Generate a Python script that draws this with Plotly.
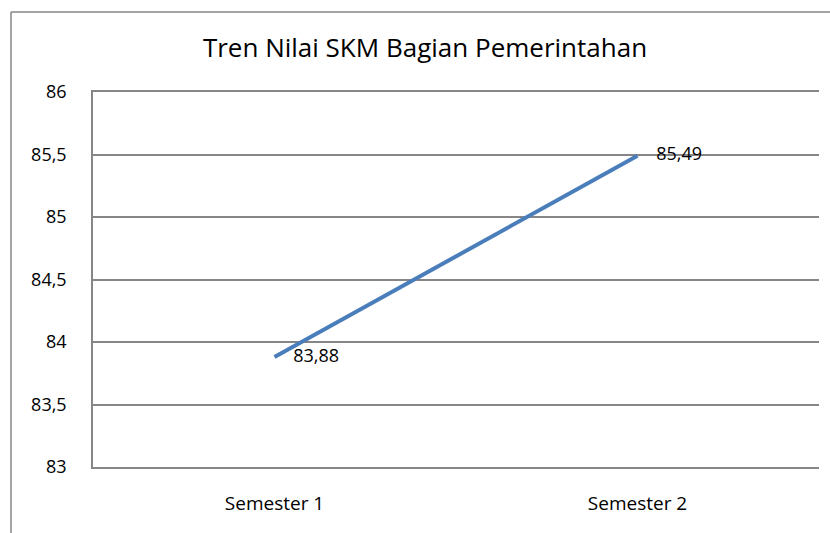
import plotly.graph_objects as go

categories = ["Semester 1", "Semester 2"]
values = [83.88, 85.49]
value_labels = ["83,88", "85,49"]
y_tickvals = [83, 83.5, 84, 84.5, 85, 85.5, 86]
y_ticktext = ["83", "83,5", "84", "84,5", "85", "85,5", "86"]

W, H = 830, 533
L, R, T, B = 93, 11, 92, 66
pw, ph = W - L - R, H - T - B
FONT = "Open Sans, Noto Sans, sans-serif"

fig = go.Figure()
fig.add_trace(go.Scatter(
    x=categories, y=values, mode="lines+text",
    line=dict(color="#4A7EBB", width=4),
    text=["\u00a0\u00a0\u00a0\u00a0" + t for t in value_labels], textposition="middle right",
    textfont=dict(family=FONT, size=18, color="#000000"),
    cliponaxis=False, showlegend=False, hoverinfo="skip",
))

bx = (11 - L) / pw
by = 1 + (T - 12) / ph
fig.add_shape(type="line", xref="paper", yref="paper", x0=bx, x1=bx, y0=by, y1=-(B + 10) / ph,
              line=dict(color="#868686", width=1.5))
fig.add_shape(type="line", xref="paper", yref="paper", x0=bx, x1=1 + (R + 10) / pw, y0=by, y1=by,
              line=dict(color="#868686", width=1.5))

fig.update_layout(
    width=W, height=H,
    margin=dict(l=L, r=R, t=T, b=B, autoexpand=False),
    paper_bgcolor="white", plot_bgcolor="white",
    title=dict(text="Tren Nilai SKM Bagian Pemerintahan", x=(425 - L) / pw, xref="paper",
               xanchor="center", y=1 - 48 / H, yanchor="middle",
               font=dict(family=FONT, size=26, color="#000000")),
    xaxis=dict(type="category", range=[-0.5, 1.5], showgrid=False, showline=True,
               linecolor="#868686", linewidth=1.5, ticks="", ticklabelstandoff=18,
               tickfont=dict(family=FONT, size=19, color="#000000"),
               mirror=True, zeroline=False, automargin=False),
    yaxis=dict(range=[83, 86], tickvals=y_tickvals, ticktext=y_ticktext,
               showgrid=True, gridcolor="#868686", gridwidth=1.5, showline=True,
               linecolor="#868686", linewidth=1.5, ticks="", ticklabelstandoff=21,
               tickfont=dict(family=FONT, size=18, color="#000000"),
               zeroline=False, automargin=False),
)

fig.write_html("out.html", config={"displayModeBar": False},
               post_script="document.body.style.margin='0';document.body.style.overflow='hidden';")
